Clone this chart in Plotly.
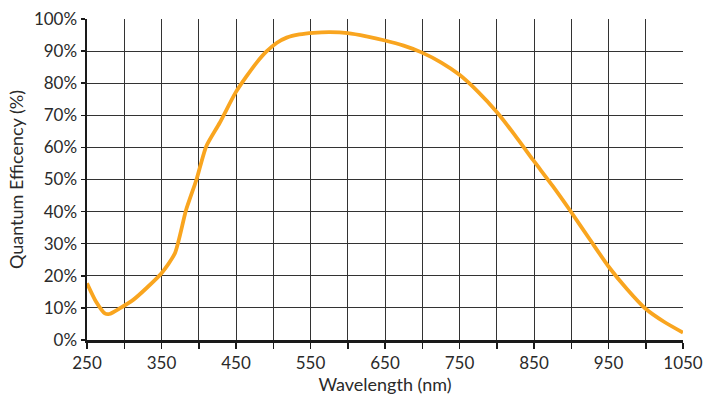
import plotly.graph_objects as go

wavelength = [250, 262, 274, 280, 295, 312, 330, 350, 368, 383, 397, 410, 428, 449, 464, 478, 491, 505, 518, 535, 554, 576, 600, 625, 650, 675, 699, 725, 750, 775, 800, 825, 849, 875, 898, 925, 950, 975, 999, 1025, 1050]
qe = [17.7, 12.0, 8.3, 8.1, 10.0, 12.5, 16.2, 20.8, 27.0, 40.5, 50.0, 60.3, 67.6, 76.9, 82.1, 86.5, 89.9, 92.6, 94.2, 95.2, 95.7, 95.9, 95.6, 94.6, 93.3, 91.7, 89.6, 86.5, 82.6, 77.3, 71.0, 63.6, 56.0, 48.0, 40.5, 31.3, 22.9, 15.8, 9.9, 5.6, 2.3]

x_ticks = list(range(250, 1051, 50))
x_labels = [str(v) if (v - 250) % 100 == 0 else "" for v in x_ticks]
y_ticks = list(range(0, 101, 10))
y_labels = [f"{v}%" for v in y_ticks]

fig = go.Figure()
fig.add_trace(go.Scatter(
    x=wavelength, y=qe, mode="lines",
    line=dict(color="#F9A51F", width=3.8, shape="spline", smoothing=0.6),
    hoverinfo="skip", showlegend=False,
))

font_family = "Lato, 'Open Sans', sans-serif"
fig.update_layout(
    width=709, height=399,
    margin=dict(l=87, r=26, t=19, b=59),
    paper_bgcolor="white", plot_bgcolor="white",
    font=dict(family=font_family, color="#2a2a2a", size=17),
    xaxis=dict(
        range=[250, 1050], tickmode="array", tickvals=x_ticks, ticktext=x_labels,
        showgrid=True, gridcolor="#333333", gridwidth=1,
        showline=True, linecolor="#1a1a1a", linewidth=2.5,
        ticks="outside", ticklen=6, tickcolor="#1a1a1a", tickwidth=1.5,
        tickfont=dict(size=17),
        title=dict(text="Wavelength (nm)", font=dict(size=18), standoff=3),
        zeroline=False, automargin=False,
    ),
    yaxis=dict(
        range=[0, 100], tickmode="array", tickvals=y_ticks, ticktext=y_labels,
        showgrid=True, gridcolor="#333333", gridwidth=1,
        showline=True, linecolor="#1a1a1a", linewidth=2.5,
        ticks="outside", ticklen=4, tickcolor="#1a1a1a", tickwidth=1.5,
        tickfont=dict(size=17),
        title=dict(text="Quantum Efficency (%)", font=dict(size=18), standoff=6),
        zeroline=False, automargin=False,
    ),
)

fig.write_html(
    "out.html",
    config={"displayModeBar": False, "staticPlot": True},
    post_script="document.body.style.margin='0';document.body.style.overflow='hidden';",
)
